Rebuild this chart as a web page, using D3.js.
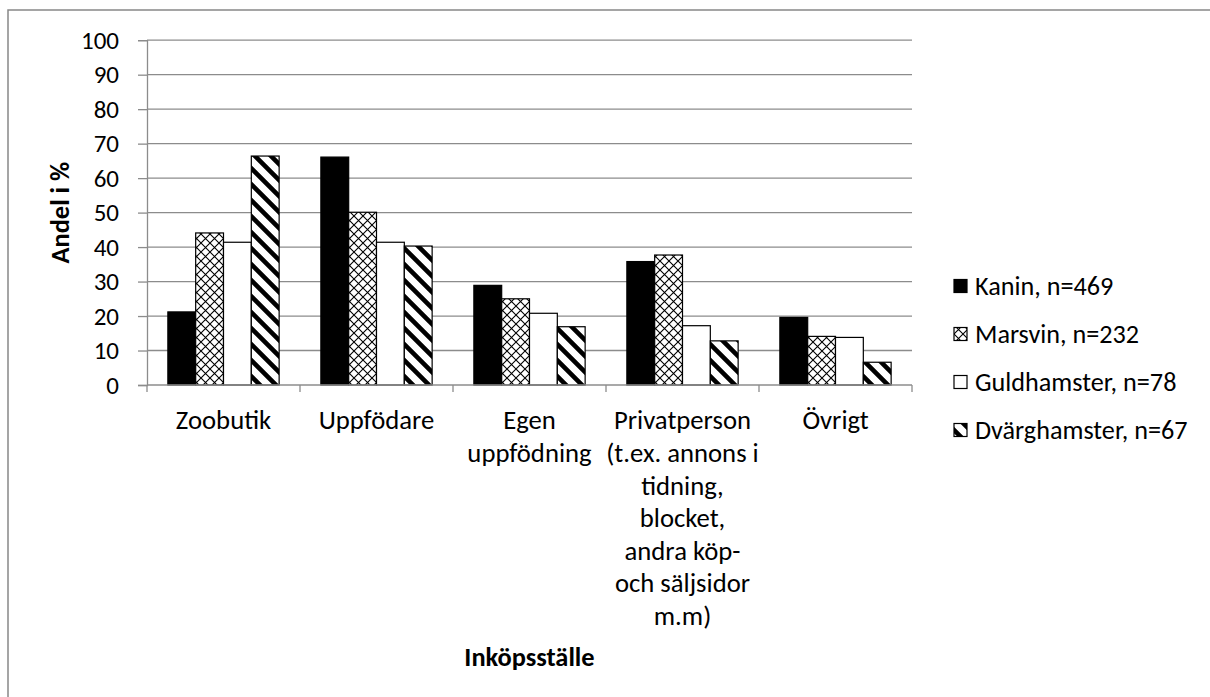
<!DOCTYPE html>
<html>
<head>
<meta charset="utf-8">
<script src="https://cdn.jsdelivr.net/npm/d3@7"></script>
<style>
  html, body { margin: 0; padding: 0; background: #fff; }
  svg { display: block; }
  text { font-family: Carlito, Calibri, Lato, "Open Sans", sans-serif; fill: #000; }
</style>
</head>
<body>
<svg id="chart" width="1210" height="697"></svg>
<script>
// ---- data ----
const categories = [
  "Zoobutik",
  "Uppfödare",
  "Egen\nuppfödning",
  "Privatperson\n(t.ex. annons i\ntidning,\nblocket,\nandra köp-\noch säljsidor\nm.m)",
  "Övrigt"
];
const seriesNames = ["Kanin, n=469", "Marsvin, n=232", "Guldhamster, n=78", "Dvärghamster, n=67"];
const kanin       = [21.2, 66.1, 28.9, 35.8, 19.6];
const marsvin     = [44.1, 50.1, 25.0, 37.7, 14.1];
const guldhamster = [41.4, 41.4, 20.8, 17.2, 13.8];
const dvarghamster= [66.4, 40.3, 16.9, 12.8, 6.6];
const seriesValues = [kanin, marsvin, guldhamster, dvarghamster];
const yTicks = [0, 10, 20, 30, 40, 50, 60, 70, 80, 90, 100];
const yTitle = "Andel i %";
const xTitle = "Inköpsställe";

// ---- layout ----
const svg = d3.select("#chart");
const plot = { left: 147, right: 912, top: 40.2, bottom: 385 };
const gridColor = "#8c8c8c";
const tickFont = 25, labelFont = 26.7, titleFont = 26.4, legendFont = 26.2;

// frame (only top and left edges visible)
svg.append("path").attr("d", "M8,697 L8,10 L1210,10")
  .attr("fill", "none").attr("stroke", "#888").attr("stroke-width", 1.5);

// patterns
const defs = svg.append("defs");
const pDiamond = defs.append("pattern").attr("id", "pDiamond")
  .attr("patternUnits", "userSpaceOnUse").attr("width", 9).attr("height", 9);
pDiamond.append("rect").attr("width", 9).attr("height", 9).attr("fill", "#fff");
pDiamond.append("path").attr("d", "M0,0 L9,9 M9,0 L0,9")
  .attr("stroke", "#000").attr("stroke-width", 1.1).attr("fill", "none");

const pStripe = defs.append("pattern").attr("id", "pStripe")
  .attr("patternUnits", "userSpaceOnUse").attr("width", 16).attr("height", 16);
pStripe.append("rect").attr("width", 16).attr("height", 16).attr("fill", "#fff");
pStripe.append("path").attr("d", "M-8,8 L8,24 M-4,-4 L20,20 M8,-8 L24,8")
  .attr("stroke", "#000").attr("stroke-width", 4.6).attr("fill", "none");

const fills = ["#000", "url(#pDiamond)", "#fff", "url(#pStripe)"];

// scales
const x0 = d3.scaleBand().domain(categories).range([plot.left, plot.right]).paddingInner(0).paddingOuter(0);
const x1 = d3.scaleBand().domain(d3.range(seriesNames.length)).range([0, x0.bandwidth()])
  .paddingInner(0).paddingOuter(0.75);
const y = d3.scaleLinear().domain([0, 100]).range([plot.bottom, plot.top]);

// gridlines
svg.append("g").selectAll("line").data(yTicks.filter(t => t > 0)).join("line")
  .attr("x1", plot.left).attr("x2", plot.right)
  .attr("y1", d => y(d)).attr("y2", d => y(d))
  .attr("stroke", gridColor).attr("stroke-width", 1.3);

// y axis
const yAxis = d3.axisLeft(y).tickValues(yTicks).tickSize(9).tickPadding(19).tickFormat(d3.format("d"));
const gy = svg.append("g").attr("transform", `translate(${plot.left},0)`).call(yAxis);
gy.select(".domain").attr("stroke", gridColor).attr("stroke-width", 1.3);
gy.selectAll(".tick line").attr("stroke", gridColor).attr("stroke-width", 1.3);
gy.selectAll(".tick text").attr("font-size", tickFont).attr("font-family", null).attr("fill", "#000");

// bars
const groups = svg.append("g").selectAll("g").data(categories).join("g")
  .attr("transform", d => `translate(${x0(d)},0)`);
groups.selectAll("rect").data((d, i) => seriesValues.map((s, k) => ({ k, v: s[i] }))).join("rect")
  .attr("x", d => x1(d.k))
  .attr("y", d => y(d.v))
  .attr("width", x1.bandwidth())
  .attr("height", d => y(0) - y(d.v))
  .attr("fill", d => fills[d.k])
  .attr("stroke", "#000").attr("stroke-width", 1.2);

// x axis
const xAxisLine = svg.append("g");
xAxisLine.append("line").attr("x1", plot.left).attr("x2", plot.right)
  .attr("y1", plot.bottom).attr("y2", plot.bottom)
  .attr("stroke", gridColor).attr("stroke-width", 1.3);
const boundaries = categories.map(c => x0(c)).concat([x0(categories[categories.length - 1]) + x0.bandwidth()]);
xAxisLine.selectAll(".xt").data(boundaries).join("line").attr("class", "xt")
  .attr("x1", d => d).attr("x2", d => d)
  .attr("y1", plot.bottom).attr("y2", plot.bottom + 7)
  .attr("stroke", gridColor).attr("stroke-width", 1.3);

// x labels
const lineH = 32.6;
const xl = svg.append("g").selectAll("text").data(categories).join("text")
  .attr("x", d => x0(d) + x0.bandwidth() / 2)
  .attr("y", 420)
  .attr("text-anchor", "middle")
  .attr("font-size", labelFont);
xl.selectAll("tspan").data(d => d.split("\n")).join("tspan")
  .attr("x", function () { return this.parentNode.getAttribute("x"); })
  .attr("y", (d, i) => 420 + i * lineH)
  .attr("dy", "0.35em")
  .text(d => d);

// axis titles
svg.append("text").attr("x", (plot.left + plot.right) / 2).attr("y", 657).attr("dy", "0.35em")
  .attr("text-anchor", "middle").attr("font-size", titleFont).attr("font-weight", "bold").text(xTitle);
svg.append("text").attr("transform", `translate(60,${(plot.top + plot.bottom) / 2}) rotate(-90)`)
  .attr("dy", "0.35em").attr("text-anchor", "middle").attr("font-size", titleFont)
  .attr("font-weight", "bold").text(yTitle);

// legend
const legendY = d3.scalePoint().domain(d3.range(seriesNames.length)).range([286, 430]);
const lg = svg.append("g").selectAll("g").data(seriesNames).join("g")
  .attr("transform", (d, i) => `translate(954,${legendY(i)})`);
lg.append("rect").attr("x", 0).attr("y", -6.5).attr("width", 13).attr("height", 13)
  .attr("fill", (d, i) => fills[i]).attr("stroke", "#000").attr("stroke-width", 1.2);
lg.append("text").attr("x", 21).attr("dy", "0.35em").attr("font-size", legendFont).text(d => d);
</script>
</body>
</html>
